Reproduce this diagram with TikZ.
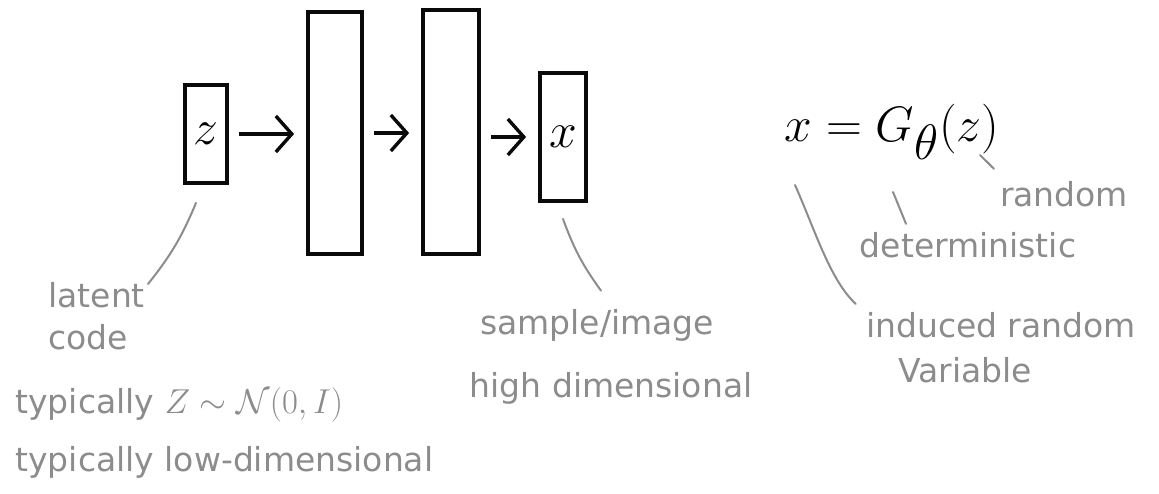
\documentclass[tikz,border=0pt]{standalone}
\usepackage{fontspec}
\setmainfont{DejaVu Sans}
\usepackage{amsmath, amssymb}
\usetikzlibrary{arrows.meta, positioning}
\definecolor{InkBlack}{RGB}{10,10,10}
\definecolor{NoteGray}{RGB}{140,140,140}
\tikzset{
  >={Straight Barb[length=8pt,width=18pt]},
  % Strati del generatore
  layer/.style={draw=InkBlack,line width=1.9pt,inner sep=0pt,font=\fontsize{24}{28}\selectfont},
  % Frecce e richiami
  flow/.style={->,line width=1.7pt,InkBlack,shorten <=5pt,shorten >=6pt},
  leader/.style={NoteGray,line width=1pt,line cap=round},
  note/.style={text=NoteGray,font=\fontsize{16.5}{21}\selectfont,inner sep=0pt}
}

\begin{document}
\begin{tikzpicture}[x=0.5pt,y=-0.5pt]
  \useasboundingbox (0,0) rectangle (1159,493);
  % generatore
  \node[layer,minimum width=21pt,minimum height=49pt] (zbox) at (206,134) {$z$};
  \node[layer,minimum width=27pt,minimum height=121pt] (layer1) at (335,133) {};
  \node[layer,minimum width=28pt,minimum height=122pt] (layer2) at (451,132) {};
  \node[layer,minimum width=23pt,minimum height=64pt] (xbox) at (563,137) {$x$};
  \draw[flow] (zbox.east) -- (zbox.east -| layer1.west);
  \draw[flow] (layer1.east) -- (layer1.east -| layer2.west);
  \draw[flow] (xbox.west -| layer2.east) -- (xbox.west);
  % note
  \node[note,anchor=north west,align=left] (latent) at (48,282) {latent\\code};
  \node[note,anchor=west] (prior) at (15,405) {typically $Z\sim\mathcal{N}(0,I)$};
  \node[note,anchor=west] (lowdim) at (15,462) {typically low-dimensional};
  \node[note] (sample) at (597,325) {sample/image};
  \node[note] (highdim) at (611,388) {high dimensional};
  \draw[leader] ([xshift=-5pt,yshift=-9pt]zbox.south) to[bend left=8] ([xshift=50pt,yshift=-1pt]latent.north west);
  \draw[leader] ([yshift=-8pt]xbox.south) to[bend right=8] ([xshift=2pt,yshift=9pt]sample.north);
  % equazione
  \node[font=\fontsize{34}{40}\selectfont,inner sep=0pt] (eq) at (892,132) {$x = G_\theta(z)$};
  \coordinate (eqx) at (795,185);
  \coordinate (eqG) at (893,192);
  \coordinate (eqz) at (980,155);
  \node[note] (random) at (1064,194) {random};
  \node[note] (determ) at (968,245) {deterministic};
  \node[note] (induced) at (1001,325) {induced random};
  \node[note] (variable) at (965,370) {Variable};
  \draw[leader] (eqz) -- ([xshift=-35pt,yshift=6pt]random.north);
  \draw[leader] (eqG) -- ([xshift=-31pt,yshift=4pt]determ.north);
  \draw[leader] (eqx) .. controls (815,230) and (830,280) .. ([xshift=-5pt,yshift=4pt]induced.north west);
\end{tikzpicture}
\end{document}
